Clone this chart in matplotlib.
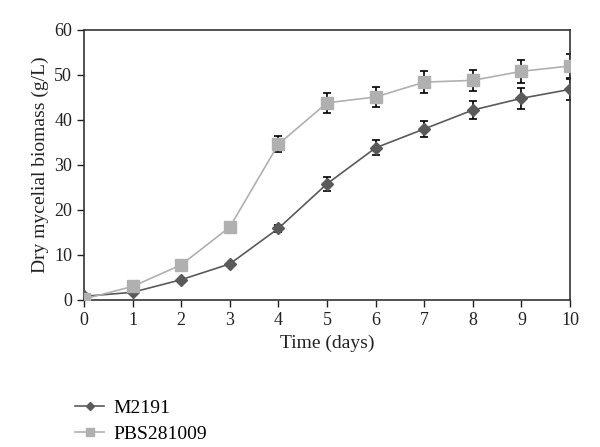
from matplotlib import pyplot as plt
import numpy as np

days = [0, 1, 2, 3, 4, 5, 6, 7, 8, 9, 10]
m2191 = [0.8, 1.7, 4.5, 8.0, 15.9, 25.8, 33.8, 38.0, 42.2, 44.8, 46.8]
m2191_err = [0, 0, 0, 0, 0.7, 1.5, 1.7, 1.8, 2.1, 2.3, 2.3]
pbs = [0.2, 3.0, 7.8, 16.2, 34.6, 43.8, 45.1, 48.4, 48.8, 50.8, 52.0]
pbs_err = [0, 0, 0, 0, 1.8, 2.2, 2.2, 2.4, 2.4, 2.5, 2.6]

plt.rcParams["font.family"] = ["Liberation Serif", "DejaVu Serif"]

fig = plt.figure(figsize=(6, 4.47), dpi=100)
ax = fig.add_axes([0.14, 0.329, 0.81, 0.604])

# barres d'erreur d'abord, les courbes par-dessus
ax.errorbar(days, pbs, yerr=pbs_err, fmt="none", ecolor="black",
            elinewidth=1.2, capsize=3, capthick=1.2, zorder=2)
ax.errorbar(days, m2191, yerr=m2191_err, fmt="none", ecolor="black",
            elinewidth=1.2, capsize=3, capthick=1.2, zorder=2)
ax.plot(days, m2191, color="#5a5a5a", marker="D", markersize=6,
        linewidth=1.2, label="M2191", zorder=3)
ax.plot(days, pbs, color="#b0b0b0", marker="s", markersize=8,
        linewidth=1.2, label="PBS281009", zorder=3)

ax.set_xlim(0, 10)
ax.set_ylim(0, 60)
ax.set_xticks(range(0, 11))
ax.set_yticks(range(0, 61, 10))
ax.tick_params(direction="out", length=5, width=1, labelsize=13, colors="#222222")
for s in ax.spines.values():
    s.set_linewidth(1.2)
    s.set_color("#333333")
ax.set_xlabel("Time (days)", fontsize=14, color="#222222")
ax.set_ylabel("Dry mycelial biomass (g/L)", fontsize=14, color="#222222")

fig.legend(loc="upper left", bbox_to_anchor=(0.112, 0.125), frameon=False,
           fontsize=14, handlelength=1.5, handletextpad=0.5, borderaxespad=0,
           labelspacing=0.45, markerscale=0.7)

fig.savefig("out.png", dpi=100)
